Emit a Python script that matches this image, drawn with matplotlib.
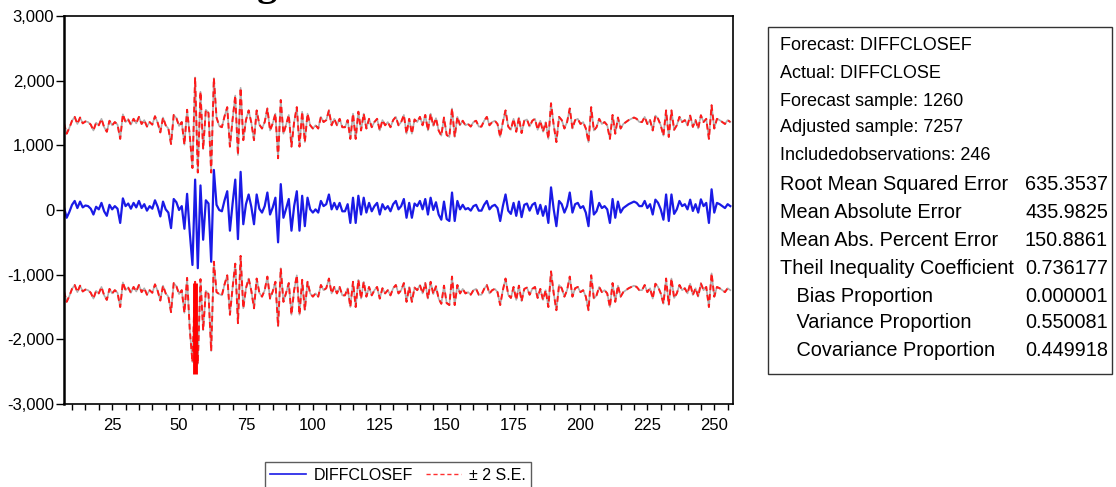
import numpy as np
import matplotlib.pyplot as plt
from matplotlib.lines import Line2D
from matplotlib.patches import Rectangle
from matplotlib.ticker import FuncFormatter, MultipleLocator

plt.rcParams['font.family'] = ['Liberation Sans', 'DejaVu Sans']

# observations 7..256
obs = np.arange(7, 257)

# forecast DIFFCLOSEF
forecast = [
    40, -120, -30, 80, 140, 30, 130, 40, 70, 60,
    20, -70, 50, 10, 110, -20, -90, 80, 10, 60,
    20, -200, 180, 60, 100, 20, 110, 40, 140, 30,
    90, -10, 60, 20, 150, 50, -100, 130, 10, -40,
    -280, 170, 120, 0, 60, -290, 250, -350, -850, 470,
    -900, 380, -460, 150, 100, -800, 620, 80, 0, -20,
    150, 290, -320, 100, 470, -450, 590, -220, 90, 240,
    50, -220, 240, 20, -40, 60, 270, -70, 40, 190,
    -500, 400, -120, 20, 170, -320, 60, 290, -320, 220,
    -250, 190, 10, -40, 10, -40, 140, 60, 90, 240,
    10, 110, 10, 110, -20, -20, 90, -200, 190, -200,
    220, -70, 190, -40, 110, -20, 60, 110, -70, 90,
    10, 60, -20, 90, 140, 10, 60, 170, -120, 110,
    -120, 100, 60, 140, 10, 170, -70, 190, 0, 120,
    -70, -150, 130, -140, -170, 270, -170, 140, 10, 80,
    10, 30, -10, 60, 80, -10, -10, 80, 140, 10,
    60, 80, 30, -170, 60, 240, -10, -60, 110, -90,
    130, -110, 80, 100, -10, 80, 110, -60, 80, -90,
    60, -200, 350, 10, -250, 140, 90, -40, 60, 270,
    -40, 90, 110, 30, 60, -40, -250, 290, -70, -20,
    110, 30, 60, 10, -200, 170, -120, 130, -40, 30,
    60, 90, 110, 130, 110, 60, 60, 140, 30, 90,
    -70, 160, 110, 10, -150, 240, -170, 240, -60, 10,
    140, 60, 90, 10, 160, -15, 90, -40, 165, 60,
    110, -200, 320, -40, 110, 90, 60, 30, 90, 60,
]

# 2 x S.E. (band half width), wider in the volatile stretch 54..64
two_se = ([1300] * 47
          + [1500, 1500, 1580, 1480, 1450, 1400, 1400, 1400, 1380, 1420, 1350]
          + [1300] * 192)

# solid red stroke below the lower band near obs 56
spike_x = 56
spike_lo, spike_hi = -2540, -1130

stat_labels = ["Forecast: DIFFCLOSEF", "Actual: DIFFCLOSE", "Forecast sample: 1260",
               "Adjusted sample: 7257", "Includedobservations: 246"]
err_labels = ["Root Mean Squared Error", "Mean Absolute Error",
              "Mean Abs. Percent Error", "Theil Inequality Coefficient",
              "   Bias Proportion", "   Variance Proportion", "   Covariance Proportion"]
err_values = ["635.3537", "435.9825", "150.8861", "0.736177",
              "0.000001", "0.550081", "0.449918"]

f = np.array(forecast, dtype=float)
se = np.array(two_se, dtype=float)
upper = f + se
lower = f - se

W, H = 1116, 487
fig = plt.figure(figsize=(W / 100, H / 100), dpi=100)
ax = fig.add_axes([64 / W, 1 - 404 / H, (733 - 64) / W, (404 - 16) / H])

for band in (upper, lower):
    ax.plot(obs, band, color='#9a9a9a', lw=1.2, alpha=0.8)
    ax.plot(obs, band, color='#ff1a1a', lw=1.4, ls=(0, (3, 2)))
ax.plot(obs, f, color='#1a1ae6', lw=1.6)
ax.vlines(spike_x, spike_lo, spike_hi, color='#ff0000', lw=3.5)

ax.set_xlim(7, 257)
ax.set_ylim(-3000, 3000)
ax.xaxis.set_major_locator(MultipleLocator(25))
ax.xaxis.set_minor_locator(MultipleLocator(5))
ax.yaxis.set_major_locator(MultipleLocator(1000))
ax.yaxis.set_major_formatter(FuncFormatter(lambda v, p: f"{v:,.0f}"))
ax.tick_params(axis='x', which='both', direction='out', length=4, width=1,
               labelsize=12, pad=6)
ax.tick_params(axis='y', direction='out', length=6, width=1, labelsize=12, pad=1)
for s in ax.spines.values():
    s.set_linewidth(1.2)
ax.spines['left'].set_linewidth(1.8)

# clipped title, only the descender shows
fig.text(278 / W, 1 + 5 / H, "Forecasting", ha='right', va='baseline',
         fontsize=29, fontweight='bold', family='Liberation Serif')

# stats box
fig.patches.append(Rectangle((768 / W, 1 - 374 / H), (1112 - 768) / W, (374 - 27) / H,
                             transform=fig.transFigure, fill=False, ec='#333333', lw=1))
ys = [46, 73, 101, 128, 156, 184, 212, 240, 268, 296, 323, 350]
for y, t in zip(ys[:5], stat_labels):
    fig.text(780 / W, 1 - y / H, t, ha='left', va='center', fontsize=13)
for y, t, v in zip(ys[5:], err_labels, err_values):
    fig.text(780 / W, 1 - y / H, t, ha='left', va='center', fontsize=14.3)
    fig.text(1108 / W, 1 - y / H, v, ha='right', va='center', fontsize=14.3)

# legend
handles = [Line2D([], [], color='#1a1ae6', lw=1.2),
           Line2D([], [], color='#ff3030', lw=1.0, ls=(0, (3, 2)))]
leg = fig.legend(handles, ["DIFFCLOSEF", "± 2 S.E."], loc='center',
                 bbox_to_anchor=(398 / W, 1 - 475 / H), ncol=2, fontsize=11.5,
                 frameon=True, fancybox=False, handlelength=2.2, columnspacing=0.8,
                 handletextpad=0.5, borderpad=0.35)
leg.get_frame().set_edgecolor('#333333')
leg.get_frame().set_linewidth(1)

fig.savefig('out.png', dpi=100)
